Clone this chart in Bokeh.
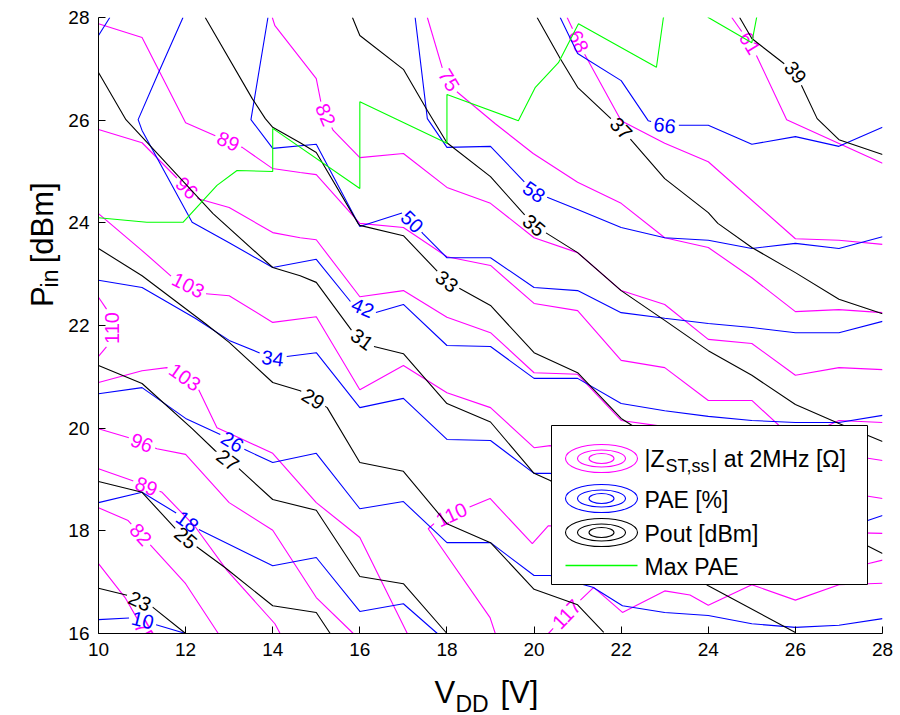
import numpy as np
from bokeh.plotting import figure
from bokeh.models import Range1d, FixedTicker
from bokeh.layouts import column, row
from bokeh.embed import file_html
from bokeh.resources import INLINE
from bokeh.core.properties import value

# ---------------- Pout contours [dBm] (black) ----------------
pout23_x = [10, 10.68, 11.25, 12]
pout23_y = [16.88, 16.74, 16.51, 16.0]
pout25_x = [10, 11, 11.8, 12.22, 12.91, 14, 15, 15.32]
pout25_y = [18.96, 18.75, 18.01, 17.71, 17.28, 16.54, 16.41, 16.0]
pout27_x = [10, 11, 12.15, 12.68, 13.2, 14, 15, 16, 17, 18]
pout27_y = [21.22, 20.87, 19.99, 19.56, 19.23, 18.61, 18.40, 17.11, 16.97, 16.0]
pout29_x = [10, 11, 12.45, 13, 14, 14.63, 15.25, 16, 17, 18, 19, 20, 21, 21.6]
pout29_y = [23.5, 22.97, 22.04, 21.67, 20.89, 20.73, 20.40, 19.33, 19.16, 18.14, 17.77, 16.86, 16.56, 16.02]
pout31_x = [10, 10.63, 12.63, 14, 14.63, 15, 15.85, 16.24, 17, 18, 19, 20, 20.37, 24, 26]
pout31_y = [26.93, 26.01, 24.18, 23.13, 22.97, 22.84, 21.86, 21.61, 21.45, 20.48, 20.12, 19.12, 18.98, 16.93, 16.02]
pout33_x = [12.45, 13.53, 13.83, 14, 14.63, 15, 15.96, 16, 17, 18, 19, 20, 21, 22, 22.37, 28]
pout33_y = [28, 26.42, 26.03, 25.86, 25.56, 25.37, 23.99, 23.95, 23.75, 22.86, 22.39, 21.47, 21.08, 20.19, 19.99, 17.56]
pout35_x = [15.83, 16, 17, 17.55, 18, 19, 20, 21, 22, 23, 24, 25, 26, 27, 28]
pout35_y = [28, 27.65, 26.99, 26.19, 25.56, 24.9, 23.95, 23.42, 22.68, 22.1, 21.51, 21.03, 20.46, 20.09, 19.74]
pout37_x = [20.07, 20.6, 21, 22, 23, 24, 24.22, 25, 26, 27, 28]
pout37_y = [28, 27.2, 26.64, 25.84, 24.86, 24.2, 23.99, 23.52, 23.03, 22.51, 22.23]
pout39_x = [24.72, 25, 26, 26.5, 27, 28]
pout39_y = [28, 27.59, 26.93, 26.03, 25.62, 25.33]
pout_labels = {23: [(10.95, 16.63)], 25: [(12.0, 17.86)], 27: [(12.97, 19.38)],
               29: [(14.93, 20.57)], 31: [(16.05, 21.73)], 33: [(18.0, 22.86)],
               35: [(20.0, 23.95)], 37: [(22.0, 25.84)], 39: [(26.0, 26.93)]}

# ---------------- PAE contours [%] (blue) ----------------
pae10_x = [10, 10.84, 11.25, 12]
pae10_y = [16.27, 16.31, 16.19, 16.0]
pae18_x = [10, 11, 11.8, 12.22, 14, 15, 16, 17, 17.78]
pae18_y = [18.55, 18.75, 18.34, 18.06, 17.32, 17.48, 16.43, 16.58, 16.0]
pae26_x = [10, 11, 12, 12.84, 13.32, 14, 15, 16, 17, 18, 19, 20, 20.37, 21.35, 22.03, 23, 24, 25, 26, 27, 28]
pae26_y = [20.67, 20.79, 20.19, 19.86, 19.6, 19.33, 19.51, 18.43, 18.57, 17.77, 17.77, 17.13, 17.13, 16.9, 16.54, 16.41, 16.35, 16.19, 16.12, 16.16, 16.29]
pae34_x = [10, 11, 12.22, 13, 14, 15, 16, 17, 18, 19, 20, 20.37, 27.66, 28]
pae34_y = [22.88, 22.74, 22.14, 21.71, 21.36, 21.47, 20.40, 20.58, 19.78, 19.76, 19.12, 19.12, 18.2, 18.3]
pae42_x = [11.94, 11.37, 10.91, 11, 12.15, 13, 14, 15, 15.82, 16.35, 17, 18, 19, 20, 21, 22, 23, 24, 25, 26, 27, 28]
pae42_y = [28, 26.91, 26.01, 25.8, 24.01, 23.61, 23.13, 23.29, 22.43, 22.25, 22.41, 21.61, 21.59, 20.97, 20.97, 20.48, 20.34, 20.23, 20.15, 20.11, 20.11, 20.25]
pae42b_x = [10, 10.26]
pae42b_y = [27.65, 28.0]
pae50_x = [13.89, 13.5, 14, 15, 16, 17, 17.45, 18, 19, 20, 21, 22, 23, 24, 25, 26, 27, 28]
pae50_y = [28, 26.01, 25.45, 25.53, 23.93, 24.2, 23.79, 23.32, 23.32, 22.74, 22.68, 22.25, 22.14, 22.04, 21.96, 21.86, 21.86, 22.08]
pae58_x = [17.27, 17.55, 18, 19, 20, 21, 22, 23, 24, 25, 26, 27, 28]
pae58_y = [28, 26.03, 25.47, 25.49, 24.6, 24.26, 23.91, 23.71, 23.66, 23.5, 23.6, 23.5, 23.73]
pae66_x = [20.6, 21, 22, 22.62, 23, 24, 25, 26, 27, 28]
pae66_y = [28, 27.3, 26.77, 25.99, 25.9, 25.9, 25.53, 25.68, 25.49, 25.86]
pae_labels = {10: [(11.02, 16.27)], 18: [(12.03, 18.17)], 26: [(13.07, 19.73)],
              34: [(14.0, 21.36)], 42: [(16.06, 22.33)], 50: [(17.2, 24.02)],
              58: [(20.0, 24.6)], 66: [(23.0, 25.88)]}

# ---------------- |Z_ST,ss| contours [Ohm] (magenta) ----------------
z61_x = [24.54, 25, 25.8, 28]
z61_y = [28, 27.45, 26.01, 25.16]
z68_x = [20.76, 21.15, 22, 23, 24, 26, 27, 28]
z68_y = [28, 27.3, 25.99, 25.55, 25.19, 23.69, 23.66, 23.58]
z75_x = [17.55, 17.91, 18.19, 19.11, 19.98, 21, 22, 23, 24, 25, 26, 27, 28]
z75_y = [28, 26.97, 26.58, 25.93, 25.35, 24.79, 24.38, 23.71, 23.52, 22.93, 22.27, 22.31, 22.25]
z82_x = [13.99, 14.05, 15, 15.13, 15.39, 16, 17, 18, 19, 20, 21, 22, 23, 24, 25, 26, 27, 28]
z82_y = [28, 27.84, 26.81, 26.25, 25.8, 25.27, 25.35, 24.69, 24.38, 23.71, 23.42, 22.68, 22.41, 21.73, 21.65, 21.03, 21.18, 21.14]
z89_x = [10, 11, 12, 13.3, 13.99, 14.63, 15, 16, 17, 18, 19, 20, 21, 22, 23, 24, 25, 26, 27, 28]
z89_y = [27.88, 27.61, 25.95, 25.47, 25.06, 24.98, 24.94, 23.99, 23.91, 23.34, 23.17, 22.43, 22.29, 21.32, 21.18, 20.54, 20.54, 19.76, 20.15, 20.11]
z96_x = [10, 11, 11.92, 12.29, 13, 14, 14.63, 15, 16, 17, 18, 19, 20, 21, 22, 23, 28]
z96_y = [25.82, 25.56, 24.77, 24.47, 24.3, 23.81, 23.71, 23.67, 22.56, 22.68, 22.16, 21.86, 21.08, 21.05, 20.15, 20.03, 19.37]
z103_x = [10, 11, 11.71, 12.45, 13, 14, 15, 16, 17, 18, 19, 20, 20.37, 28]
z103_y = [24.18, 23.46, 22.93, 22.62, 22.58, 22.06, 22.17, 20.75, 21.22, 20.69, 20.4, 19.62, 19.66, 18.63]
z110a_x = [10, 10.2, 10.3, 10.2, 10]
z110a_y = [22.55, 22.3, 21.95, 21.6, 21.4]
z103b_x = [10, 11, 11.57, 12.22, 12.72, 13, 14, 15, 16, 17.09]
z103b_y = [20.89, 21.12, 21.18, 20.89, 20.01, 19.9, 19.51, 18.55, 17.87, 16.0]
z96b_x = [10, 10.68, 11.34, 12, 13, 14, 15, 15.85]
z96b_y = [19.99, 19.82, 19.6, 19.49, 18.55, 18.01, 16.7, 16.0]
z89b_x = [10, 10.77, 11.46, 12.22, 12.95, 14.05, 14.17]
z89b_y = [19.21, 18.98, 18.75, 18.08, 17.23, 16.19, 16.0]
z82b_x = [10, 10.68, 11.14, 12, 12.75]
z82b_y = [18.45, 18.2, 17.77, 16.97, 16.0]
z75b_x = [10, 10.61, 11.07]
z75b_y = [17.36, 16.7, 16.02]
z110b_x = [19.11, 18.99, 17.57, 17.78, 18.99, 19.96, 20.33, 28]
z110b_y = [16.0, 16.31, 18.04, 18.2, 18.63, 17.75, 18.1, 17.95]
z117_x = [20.33, 21.0, 21.37, 22.03, 23.0, 23.58, 24.0, 25.0, 26.0, 27.0, 28.0]
z117_y = [16.0, 16.6, 16.9, 16.41, 16.83, 16.75, 16.55, 16.95, 16.65, 16.95, 16.98]
z117b_x = [27.5, 27.66, 28.0]
z117b_y = [17.36, 17.36, 17.43]
z_labels = {"61": [(24.95, 27.5)], "68": [(21.02, 27.53)], "75": [(18.05, 26.78)],
            "82": [(15.2, 26.1)], "89": [(12.98, 25.59)], "96": [(12.03, 24.68)],
            "103": [(12.06, 22.78)], "110a": [(10.3, 21.95)], "103b": [(12.0, 21.02)],
            "96b": [(11.0, 19.72)], "89b": [(11.1, 18.87)], "82b": [(11.0, 17.95)],
            "75b": [(11.1, 16.05)], "110b": [(18.1, 18.32)], "117": [(20.72, 16.4)]}

# ---------------- Max PAE trajectory (green) ----------------
maxpae_x = [10.0, 11.11, 11.94, 12.72, 13.18, 14.0, 14.0, 16.0, 16.0, 18.0, 18.0, 19.64, 20.03, 20.56, 21.02, 22.81, 22.97, 23.5, 24.0, 25.0, 25.2]
maxpae_y = [24.10, 24.01, 24.01, 24.73, 25.02, 25.0, 25.84, 24.67, 26.36, 25.55, 26.50, 25.99, 26.64, 27.12, 27.88, 27.03, 28.0, 28.8, 28.0, 27.51, 28.4]

x_ticks = [10, 12, 14, 16, 18, 20, 22, 24, 26, 28]
y_ticks = [16, 18, 20, 22, 24, 26, 28]

# ---------------- layout ----------------
W, H = 900, 715
LW = 64            # left strip for the y title
FL, FR, FT = 98, 18, 17           # frame edges in page pixels
FW, FH = 784, 616
MB = 31            # main figure bottom border (tick labels)
MW, MH = W - LW, FT + FH + MB
BH = H - MH        # bottom strip for the x title
XMIN, XMAX, YMIN, YMAX = 10, 28, 16, 28
KX = FW / (XMAX - XMIN)
KY = FH / (YMAX - YMIN)
FONT = "Liberation Sans"
MAG, BLU, BLK, GRN = "#ff00ff", "#0000ff", "#000000", "#00ff00"
LAB_FS = 20.0


def X(px):
    return XMIN + (px - FL) / KX


def Y(py):
    return YMAX - (py - FT) / KY


def split_line(xs, ys, labels, txt, fs=LAB_FS, pad=3.0):
    P = np.column_stack([(np.asarray(xs, float) - XMIN) * KX, (YMAX - np.asarray(ys, float)) * KY])
    seg = np.hypot(*np.diff(P, axis=0).T)
    S = np.concatenate([[0.0], np.cumsum(seg)])

    def at(sv):
        sv = min(max(sv, 0.0), S[-1])
        i = int(np.clip(np.searchsorted(S, sv, side="right") - 1, 0, len(seg) - 1))
        t = 0.0 if seg[i] == 0 else (sv - S[i]) / seg[i]
        return P[i] + t * (P[i + 1] - P[i])

    def proj(q):
        best_d, best_s = 1e18, 0.0
        for i in range(len(seg)):
            a, b = P[i], P[i + 1]
            ab = b - a
            L2 = ab @ ab
            t = 0.0 if L2 == 0 else float(np.clip((q - a) @ ab / L2, 0, 1))
            d = np.hypot(*(a + t * ab - q))
            if d < best_d:
                best_d, best_s = d, S[i] + t * seg[i]
        return best_s

    half = 0.5 * len(txt) * 0.556 * fs + pad
    cuts, labs = [], []
    for lx, ly in labels:
        s0 = proj(np.array([(lx - XMIN) * KX, (YMAX - ly) * KY]))
        pa, pb = at(s0 - half), at(s0 + half)
        ang = float(np.arctan2(-(pb[1] - pa[1]), pb[0] - pa[0]))
        if ang > np.pi / 2:
            ang -= np.pi
        if ang <= -np.pi / 2:
            ang += np.pi
        if abs(abs(ang) - np.pi / 2) < 0.1:
            ang = np.pi / 2
        c = at(s0)
        labs.append((XMIN + c[0] / KX, YMAX - c[1] / KY, ang, txt))
        cuts.append((s0 - half, s0 + half))
    cuts.sort()
    keep, start = [], 0.0
    for a, b in cuts:
        keep.append((start, a))
        start = b
    keep.append((start, S[-1]))
    pieces = []
    for a, b in keep:
        a, b = max(a, 0.0), min(b, S[-1])
        if b - a < 0.5:
            continue
        pts = [at(a)] + [P[i] for i in range(len(P)) if a < S[i] < b] + [at(b)]
        pts = np.array(pts)
        pieces.append((list(XMIN + pts[:, 0] / KX), list(YMAX - pts[:, 1] / KY)))
    return pieces, labs


p = figure(width=MW, height=MH, output_backend="svg", toolbar_location=None,
           x_range=Range1d(XMIN, XMAX), y_range=Range1d(YMIN, YMAX),
           min_border_left=FL - LW, min_border_right=FR, min_border_top=FT,
           min_border_bottom=MB)
p.outline_line_color = None
p.xgrid.visible = False
p.ygrid.visible = False
p.background_fill_color = "white"
p.border_fill_color = "white"

for ax, ticks in ((p.xaxis, x_ticks), (p.yaxis, y_ticks)):
    ax.ticker = FixedTicker(ticks=ticks)
    ax.minor_tick_line_color = None
    ax.major_tick_in = 7
    ax.major_tick_out = 0
    ax.axis_line_color = "black"
    ax.major_tick_line_color = "black"
    ax.major_label_text_font = FONT
    ax.major_label_text_font_size = "19px"
    ax.major_label_text_color = "black"
p.xaxis.major_label_standoff = 9
p.yaxis.major_label_standoff = 9


def draw_family(lines, color):
    xs_all, ys_all, labs_all = [], [], []
    for txt, xs, ys, labs in lines:
        pieces, labs_out = split_line(xs, ys, labs, txt)
        for px_, py_ in pieces:
            xs_all.append(px_)
            ys_all.append(py_)
        labs_all.extend(labs_out)
    p.multi_line(xs_all, ys_all, line_color=color, line_width=1.1)
    if labs_all:
        p.text(x=[l[0] for l in labs_all], y=[l[1] for l in labs_all],
               text=[l[3] for l in labs_all], angle=[l[2] for l in labs_all],
               text_color=color, text_font=value(FONT), text_font_size=f"{LAB_FS}px",
               text_align="center", text_baseline="middle")


z_lines = [
    ("61", z61_x, z61_y, z_labels["61"]), ("68", z68_x, z68_y, z_labels["68"]),
    ("75", z75_x, z75_y, z_labels["75"]), ("82", z82_x, z82_y, z_labels["82"]),
    ("89", z89_x, z89_y, z_labels["89"]), ("96", z96_x, z96_y, z_labels["96"]),
    ("103", z103_x, z103_y, z_labels["103"]), ("110", z110a_x, z110a_y, z_labels["110a"]),
    ("103", z103b_x, z103b_y, z_labels["103b"]), ("96", z96b_x, z96b_y, z_labels["96b"]),
    ("89", z89b_x, z89b_y, z_labels["89b"]), ("82", z82b_x, z82b_y, z_labels["82b"]),
    ("75", z75b_x, z75b_y, z_labels["75b"]), ("110", z110b_x, z110b_y, z_labels["110b"]),
    ("117", z117_x, z117_y, z_labels["117"]), ("117", z117b_x, z117b_y, []),
]
pae_lines = [
    ("10", pae10_x, pae10_y, pae_labels[10]), ("18", pae18_x, pae18_y, pae_labels[18]),
    ("26", pae26_x, pae26_y, pae_labels[26]), ("34", pae34_x, pae34_y, pae_labels[34]),
    ("42", pae42_x, pae42_y, pae_labels[42]), ("42", pae42b_x, pae42b_y, []),
    ("50", pae50_x, pae50_y, pae_labels[50]), ("58", pae58_x, pae58_y, pae_labels[58]),
    ("66", pae66_x, pae66_y, pae_labels[66]),
]
pout_lines = [
    ("23", pout23_x, pout23_y, pout_labels[23]), ("25", pout25_x, pout25_y, pout_labels[25]),
    ("27", pout27_x, pout27_y, pout_labels[27]), ("29", pout29_x, pout29_y, pout_labels[29]),
    ("31", pout31_x, pout31_y, pout_labels[31]), ("33", pout33_x, pout33_y, pout_labels[33]),
    ("35", pout35_x, pout35_y, pout_labels[35]), ("37", pout37_x, pout37_y, pout_labels[37]),
    ("39", pout39_x, pout39_y, pout_labels[39]),
]

draw_family(z_lines, MAG)
draw_family(pae_lines, BLU)
draw_family(pout_lines, BLK)
p.line(maxpae_x, maxpae_y, line_color=GRN, line_width=1.1)

# ---------------- legend (drawn manually, MATLAB style) ----------------
p.quad(left=[X(551)], right=[X(867)], top=[Y(425)], bottom=[Y(584)],
       fill_color="white", line_color="black", line_width=1)
for cy, col in ((458, MAG), (498, BLU), (532, BLK)):
    p.ellipse(x=[X(601)] * 3, y=[Y(cy)] * 3, width=[72, 48, 25], height=[28, 17, 10],
              width_units="screen", height_units="screen", fill_color=None, line_color=col, line_width=1.1)
p.line([X(565), X(637)], [Y(565), Y(565)], line_color=GRN, line_width=1.4)
leg_kw = dict(text_font=value(FONT), text_color="black", text_align="left", text_baseline="alphabetic")
p.text(x=[X(644)], y=[Y(458)], text=["|Z"], text_font_size="23px", **leg_kw)
p.text(x=[X(665)], y=[Y(465)], text=["ST,ss"], text_font_size="18px", **leg_kw)
p.text(x=[X(711)], y=[Y(458)], text=["| at 2MHz [Ω]"], text_font_size="23px", **leg_kw)
p.text(x=[X(644)], y=[Y(499)], text=["PAE [%]"], text_font_size="23px", **leg_kw)
p.text(x=[X(644)], y=[Y(533)], text=["Pout [dBm]"], text_font_size="23px", **leg_kw)
p.text(x=[X(644)], y=[Y(566)], text=["Max PAE"], text_font_size="23px", **leg_kw)


# ---------------- axis titles with subscripts (own strips, page pixel coordinates) ----------------
def strip(w, h):
    f = figure(width=w, height=h, output_backend="svg", toolbar_location=None,
               x_range=Range1d(0, w), y_range=Range1d(h, 0), min_border=0,
               x_axis_location=None, y_axis_location=None)
    f.outline_line_color = None
    f.background_fill_color = "white"
    f.border_fill_color = "white"
    f.grid.visible = False
    return f


tkw = dict(text_font=value(FONT), text_color="black", text_align="left", text_baseline="alphabetic")
left = strip(LW, MH)
left.text(x=[42], y=[312], text=["P"], angle=[np.pi / 2], text_font_size="31px", **tkw)
left.text(x=[49], y=[291], text=["in"], angle=[np.pi / 2], text_font_size="23px", **tkw)
left.text(x=[42], y=[265], text=["[dBm]"], angle=[np.pi / 2], text_font_size="31px", **tkw)

bottom = strip(W, BH)
bottom.text(x=[434], y=[692 - MH], text=["V"], text_font_size="31px", **tkw)
bottom.text(x=[455], y=[703 - MH], text=["DD"], text_font_size="23px", **tkw)
bottom.text(x=[500], y=[692 - MH], text=["[V]"], text_font_size="31px", **tkw)

layout = column(row(left, p), bottom)
open("out.html", "w").write(file_html(layout, INLINE))
